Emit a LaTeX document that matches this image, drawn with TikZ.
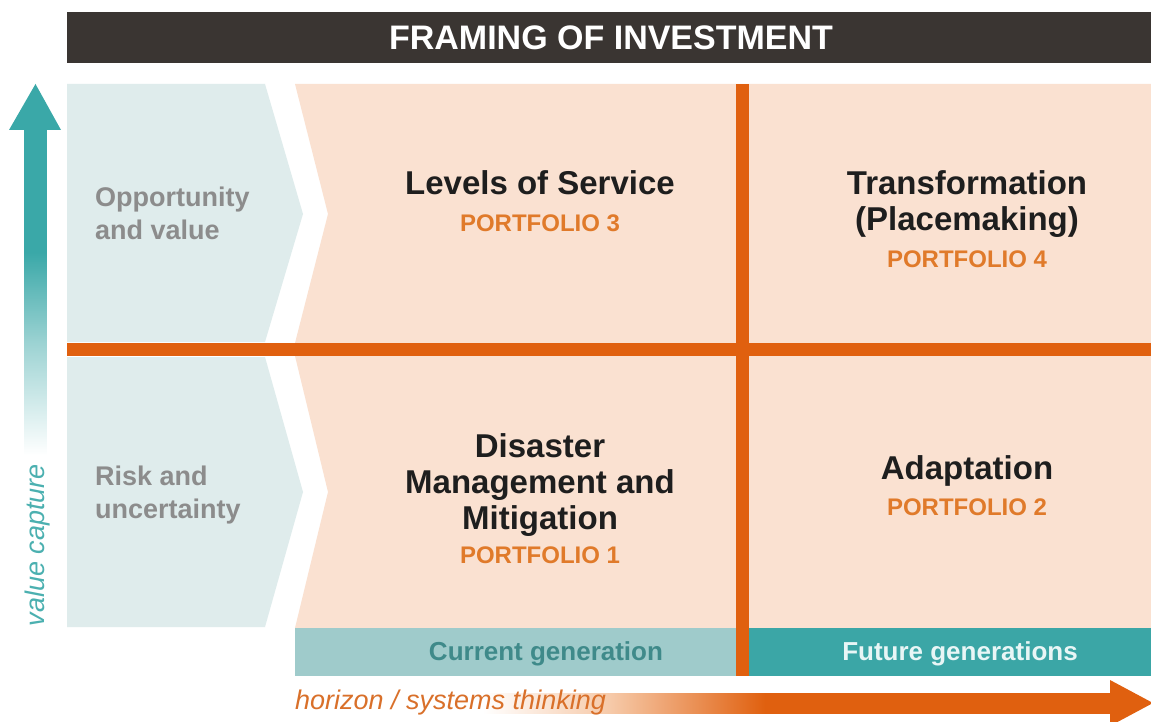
\documentclass[tikz,border=0pt]{standalone}
\usepackage{fontspec}
\setmainfont{Liberation Sans}
\definecolor{hdr}{HTML}{3A3532}
\definecolor{peach}{HTML}{FAE1D1}
\definecolor{paleblue}{HTML}{DFECEC}
\definecolor{orng}{HTML}{E0600F}
\definecolor{portc}{HTML}{E07A2A}
\definecolor{curbar}{HTML}{9FCBCB}
\definecolor{curtxt}{HTML}{3F8A8A}
\definecolor{futbar}{HTML}{3BA6A6}
\definecolor{futtxt}{HTML}{E8F6F6}
\definecolor{graytxt}{HTML}{8C8C8C}
\definecolor{titletxt}{HTML}{1E1E1E}
\definecolor{tealarr}{HTML}{3AA8A8}
\definecolor{tealmid}{HTML}{9DD3D3}
\definecolor{tealtxt}{HTML}{4BB0B0}
\definecolor{horitxt}{HTML}{D9702A}
\definecolor{orlight}{HTML}{F6C9A8}
\pgfdeclareverticalshading{tealfade}{100bp}{color(0bp)=(white); color(25bp)=(white); color(42bp)=(tealmid); color(56bp)=(tealarr); color(100bp)=(tealarr)}
\pgfdeclarehorizontalshading{orfade}{100bp}{color(0bp)=(white); color(26bp)=(white); color(36bp)=(orlight); color(48bp)=(orng); color(100bp)=(orng)}
\tikzset{
  qtitle/.style={font=\fontsize{33}{36}\selectfont\bfseries, text=titletxt, anchor=base, inner sep=0pt},
  portf/.style={font=\fontsize{24}{28}\selectfont\bfseries, text=portc, anchor=base, inner sep=0pt},
  sidelbl/.style={font=\fontsize{27}{32}\selectfont\bfseries, text=graytxt, anchor=base west, inner sep=0pt},
  barlbl/.style={font=\fontsize{26}{30}\selectfont\bfseries, anchor=base, inner sep=0pt},
  axislbl/.style={font=\fontsize{27}{32}\selectfont\itshape, inner sep=0pt},
}
\begin{document}
\begin{tikzpicture}[x=1pt,y=-1pt]
\useasboundingbox (0,0) rectangle (1151,722);
\fill[white] (0,0) rectangle (1151,722);

% header bar
\fill[hdr] (67,12) rectangle (1151,63);
\node[font=\fontsize{34}{40}\selectfont\bfseries, text=white, anchor=base, inner sep=0pt] (header) at (611,50) {FRAMING OF INVESTMENT};

% peach field with notches
\fill[peach] (295,84) -- (1151,84) -- (1151,628) -- (295,628) -- (328,492) -- (295,356)
  -- (295,343) -- (328,214) -- cycle;

% pale blue chevron panels
\fill[paleblue] (67,84) -- (265,84) -- (303,214) -- (265,342) -- (67,342) -- cycle;
\fill[paleblue] (67,357) -- (265,357) -- (303,492) -- (265,627) -- (67,627) -- cycle;

% bottom bars
\fill[curbar] (295,628) rectangle (736,676);
\fill[futbar] (749,628) rectangle (1151,676);

% orange cross lines
\fill[orng] (67,343) rectangle (1151,356);
\fill[orng] (736,84) rectangle (749,676);

% vertical value arrow
\shade[shading=tealfade] (24.5,128) rectangle (46.5,455);
\fill[tealarr] (9,130) -- (35.5,84) -- (61,130) -- cycle;
\node[axislbl, text=tealtxt, rotate=90, anchor=base] (vcap) at (44,545) {value capture};

% horizontal horizon arrow
\shade[shading=orfade] (470,693) rectangle (1112,713);
\fill[orng] (1110,680) -- (1153,703) -- (1110,726) -- cycle;
\node[axislbl, text=horitxt, anchor=base west] (horiz) at (295,709) {horizon / systems thinking};

% side labels
\node[sidelbl] (opp1) at (95,207) {Opportunity};
\node[sidelbl] (opp2) at (95,240) {and value};
\node[sidelbl] (risk1) at (95,485) {Risk and};
\node[sidelbl] (risk2) at (95,518) {uncertainty};

% quadrant 3
\node[qtitle] (los) at (540,195) {Levels of Service};
\node[portf] (p3) at (540,232) {PORTFOLIO 3};

% quadrant 4
\node[qtitle] (tr1) at (967,195) {Transformation};
\node[qtitle] (tr2) at (967,231) {(Placemaking)};
\node[portf] (p4) at (967,267) {PORTFOLIO 4};

% quadrant 1
\node[qtitle] (dm1) at (540,457) {Disaster};
\node[qtitle] (dm2) at (540,493) {Management and};
\node[qtitle] (dm3) at (540,529) {Mitigation};
\node[portf] (p1) at (540,563) {PORTFOLIO 1};

% quadrant 2
\node[qtitle] (ad) at (967,479) {Adaptation};
\node[portf] (p2) at (967,515) {PORTFOLIO 2};

% bar labels
\node[barlbl, text=curtxt] (cur) at (546,660) {Current generation};
\node[barlbl, text=futtxt] (fut) at (960,660) {Future generations};
\end{tikzpicture}
\end{document}
